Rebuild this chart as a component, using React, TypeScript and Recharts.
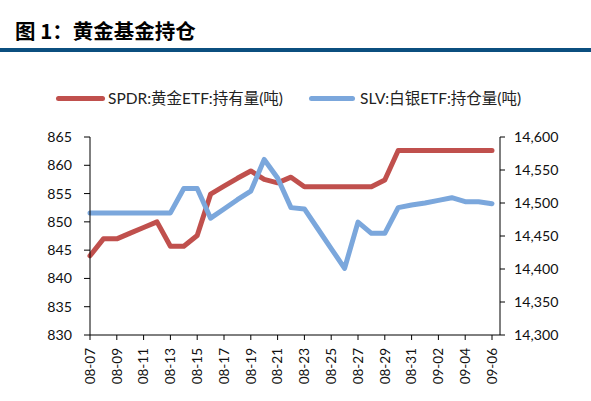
import { LineChart, Line, XAxis, YAxis } from 'recharts';

const dates = [
  '08-07', '08-08', '08-09', '08-10', '08-11', '08-12', '08-13', '08-14', '08-15', '08-16',
  '08-17', '08-18', '08-19', '08-20', '08-21', '08-22', '08-23', '08-24', '08-25', '08-26',
  '08-27', '08-28', '08-29', '08-30', '08-31', '09-01', '09-02', '09-03', '09-04', '09-05', '09-06',
];

// SPDR gold holdings (tonnes), left axis
const spdr = [
  844, 847, 847, 848, 849, 850, 845.7, 845.7, 847.6, 854.9,
  856.3, 857.7, 859, 857.5, 856.9, 857.9, 856.2, 856.2, 856.2, 856.2,
  856.2, 856.2, 857.4, 862.6, 862.6, 862.6, 862.6, 862.6, 862.6, 862.6, 862.6,
];

// SLV silver holdings (tonnes), right axis
const slv = [
  14485, 14485, 14485, 14485, 14485, 14485, 14485, 14522, 14522, 14477,
  14491, 14505, 14518, 14566, 14538, 14493, 14491, 14461, 14431, 14401,
  14471, 14454, 14454, 14493, 14497, 14500, 14504, 14508, 14502, 14502, 14499,
];

const leftTicks = [830, 835, 840, 845, 850, 855, 860, 865];
const rightTicks = [14300, 14350, 14400, 14450, 14500, 14550, 14600];

const data = dates.map((date, i) => ({ date, spdr: spdr[i], slv: slv[i] }));

const RED = '#c0504d';
const BLUE = '#7ba7dc';
const FONT = "Lato, 'Noto Sans CJK SC', sans-serif";

const DateTick = ({ x, y, payload }: any) => (
  <g transform={`translate(${x},${y})`}>
    <text transform="rotate(-90)" textAnchor="end" dy="0.36em" fontSize={13.5} fill="#111" fontFamily={FONT}>
      {payload.value}
    </text>
  </g>
);

export default function App() {
  return (
    <div style={{ position: 'absolute', left: 0, top: 0, width: 591, height: 401, background: '#fff', fontFamily: FONT }}>
      <div
        style={{
          position: 'absolute', left: 15, top: 17, fontSize: 20.5, fontWeight: 700, color: '#000',
          fontFamily: "'Noto Sans CJK SC', sans-serif", lineHeight: '26px',
        }}
      >
        图 1：黄金基金持仓
      </div>
      <div style={{ position: 'absolute', left: 0, top: 48, width: 591, height: 4, background: '#0b4f7f' }} />

      <div style={{ position: 'absolute', left: 56, top: 88, display: 'flex', alignItems: 'center', fontSize: 15.5, color: '#222', lineHeight: '20px' }}>
        <span style={{ display: 'inline-block', width: 49, height: 5, borderRadius: 3, background: RED, marginRight: 3 }} />
        <span>SPDR:黄金ETF:持有量(吨)</span>
      </div>
      <div style={{ position: 'absolute', left: 309, top: 88, display: 'flex', alignItems: 'center', fontSize: 15.5, color: '#222', lineHeight: '20px' }}>
        <span style={{ display: 'inline-block', width: 46, height: 5, borderRadius: 3, background: BLUE, marginRight: 5 }} />
        <span>SLV:白银ETF:持仓量(吨)</span>
      </div>

      <div style={{ position: 'absolute', left: 0, top: 0 }}>
        <LineChart width={591} height={401} data={data} margin={{ top: 137, right: 0, bottom: 0, left: 0 }}>
          <XAxis
            dataKey="date"
            interval={1}
            tick={<DateTick />}
            tickSize={5}
            tickMargin={8}
            height={66}
            padding={{ left: 0, right: 8 }}
            axisLine={{ stroke: '#000' }}
            tickLine={{ stroke: '#000' }}
          />
          <YAxis
            yAxisId="left"
            domain={[830, 865]}
            ticks={leftTicks}
            width={90}
            tickSize={6}
            tickMargin={12}
            axisLine={{ stroke: '#000' }}
            tickLine={{ stroke: '#000' }}
            tick={{ fontSize: 14.2, fill: '#111', fontFamily: FONT }}
          />
          <YAxis
            yAxisId="right"
            orientation="right"
            domain={[14300, 14600]}
            ticks={rightTicks}
            width={91}
            tickSize={5}
            tickMargin={9}
            tickFormatter={(v: number) => v.toLocaleString('en-US')}
            axisLine={{ stroke: '#000' }}
            tickLine={{ stroke: '#000' }}
            tick={{ fontSize: 14.2, fill: '#111', fontFamily: FONT }}
          />
          <Line
            yAxisId="left"
            type="linear"
            dataKey="spdr"
            stroke={RED}
            strokeWidth={5}
            strokeLinecap="round"
            strokeLinejoin="round"
            dot={false}
            isAnimationActive={false}
          />
          <Line
            yAxisId="right"
            type="linear"
            dataKey="slv"
            stroke={BLUE}
            strokeWidth={5}
            strokeLinecap="round"
            strokeLinejoin="round"
            dot={false}
            isAnimationActive={false}
          />
        </LineChart>
      </div>
    </div>
  );
}
